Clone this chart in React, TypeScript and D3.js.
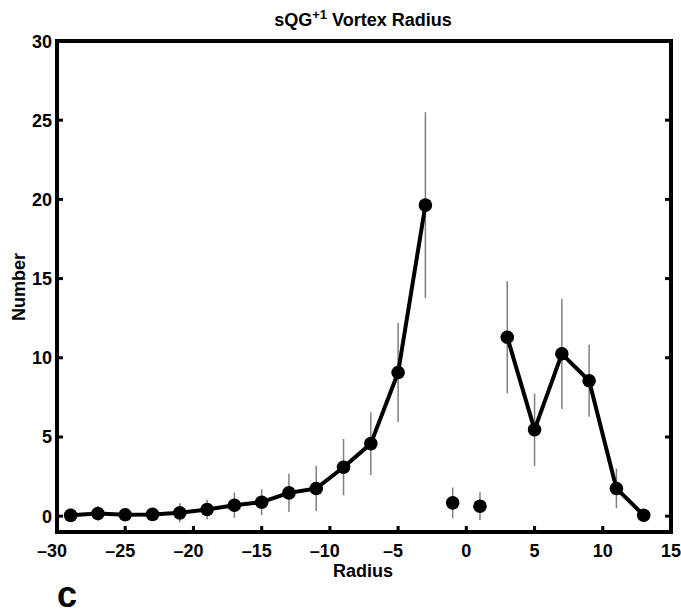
import React from 'react';
import * as d3 from 'd3';

// vortex radius bins and counts
const radius = [-29, -27, -25, -23, -21, -19, -17, -15, -13, -11, -9, -7, -5, -3, -1, 1, 3, 5, 7, 9, 11, 13];
const counts = [0.05, 0.17, 0.09, 0.11, 0.21, 0.42, 0.69, 0.88, 1.47, 1.75, 3.09, 4.58, 9.07, 19.64, 0.84, 0.63, 11.3, 5.46, 10.25, 8.55, 1.75, 0.06];
const errors = [0.1, 0.47, 0.2, 0.25, 0.6, 0.62, 0.8, 0.82, 1.21, 1.43, 1.78, 1.98, 3.12, 5.87, 0.97, 0.88, 3.54, 2.29, 3.48, 2.28, 1.25, 0.1];
const onLine = [true, true, true, true, true, true, true, true, true, true, true, true, true, true, false, false, true, true, true, true, true, true];

const xTicks = [-30, -25, -20, -15, -10, -5, 0, 5, 10, 15];
const yTicks = [0, 5, 10, 15, 20, 25, 30];

const W = 681;
const H = 616;
const left = 57, right = 671, top = 41, bottom = 532;
const font = 'Liberation Sans, Arial, sans-serif';
const fs = 18;
const digitW = 0.556 * fs;

const App = () => {
  const x = d3.scaleLinear().domain([-30, 15]).range([left, right]);
  const y = d3.scaleLinear().domain([-1, 30]).range([bottom, top]);

  const pts = radius.map((r, i) => ({ r, c: counts[i], e: errors[i], on: onLine[i] }));

  const line = d3.line<any>()
    .defined(d => d.on)
    .x(d => x(d.r))
    .y(d => y(d.c));

  return (
    <svg width={W} height={H} style={{ position: 'absolute', left: 0, top: 0, background: '#fff' }}>
      <text x={363} y={26} textAnchor="middle" fontFamily={font} fontWeight="bold" fontSize={fs}>
        sQG<tspan dy={-7} fontSize={13}>+1</tspan><tspan dy={7}> Vortex Radius</tspan>
      </text>

      {/* error bars */}
      {pts.map((d, i) => (
        <line key={'e' + i} x1={x(d.r)} x2={x(d.r)} y1={y(d.c - d.e)} y2={y(d.c + d.e)}
          stroke="#7f7f7f" strokeWidth={1.5} />
      ))}

      <path d={line(pts) || ''} fill="none" stroke="#000" strokeWidth={4} strokeLinejoin="round" />

      {pts.map((d, i) => (
        <circle key={'p' + i} cx={x(d.r)} cy={y(d.c)} r={6.8} fill="#000" />
      ))}

      {/* frame */}
      <rect x={left} y={top} width={right - left} height={bottom - top} fill="none" stroke="#000" strokeWidth={4} />

      {xTicks.map(t => {
        const digits = String(Math.abs(t));
        return (
          <g key={'x' + t} fontFamily={font} fontWeight="bold" fontSize={fs}>
            <line x1={x(t)} x2={x(t)} y1={bottom} y2={bottom - 6} stroke="#000" strokeWidth={3} />
            <text x={x(t)} y={557} textAnchor="middle">{digits}</text>
            {t < 0 && (
              <text x={x(t) - (digits.length * digitW) / 2} y={557} textAnchor="end">{'\u2013'}</text>
            )}
          </g>
        );
      })}
      {yTicks.map(t => (
        <g key={'y' + t}>
          <line x1={left} x2={left + 6} y1={y(t)} y2={y(t)} stroke="#000" strokeWidth={3} />
          <line x1={right} x2={right - 6} y1={y(t)} y2={y(t)} stroke="#000" strokeWidth={3} />
          <text x={left - 5} y={y(t) + 6.5} textAnchor="end" fontFamily={font} fontWeight="bold" fontSize={fs}>{t}</text>
        </g>
      ))}

      <text x={363} y={577} textAnchor="middle" fontFamily={font} fontWeight="bold" fontSize={fs}>Radius</text>
      <text transform="translate(25,287) rotate(-90)" textAnchor="middle" fontFamily={font} fontWeight="bold" fontSize={fs}>Number</text>

      <text x={57} y={607} fontFamily={font} fontWeight="bold" fontSize={36}>c</text>
    </svg>
  );
};

export default App;
